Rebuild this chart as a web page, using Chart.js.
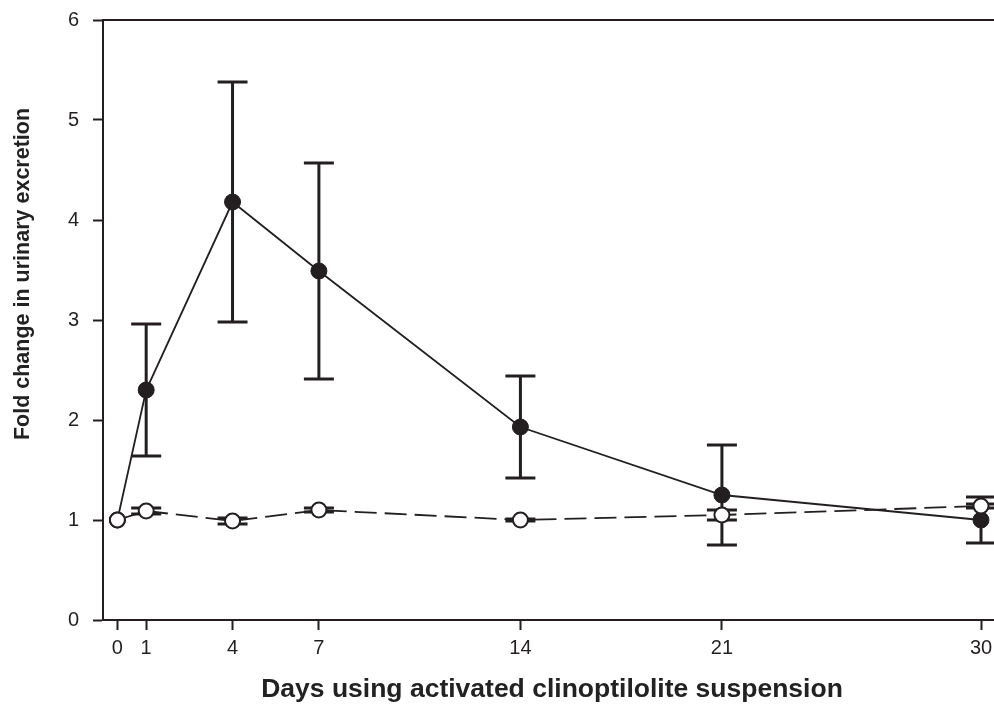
<!DOCTYPE html>
<html>
<head>
<meta charset="utf-8">
<script src="https://cdn.jsdelivr.net/npm/chart.js@4"></script>
<style>
  html, body { margin: 0; padding: 0; background: #fff; }
  #wrap { width: 994px; height: 704px; }
</style>
</head>
<body>
<div id="wrap"><canvas id="chart" width="994" height="704"></canvas></div>
<script>
// days on the x axis (also the tick labels)
const days = [0, 1, 4, 7, 14, 21, 30];
// filled circles, solid line
const treatedMean = [1.00, 2.30, 4.18, 3.49, 1.93, 1.25, 1.00];
const treatedErr  = [0.00, 0.66, 1.20, 1.08, 0.51, 0.50, 0.23];
// open circles, dashed line
const controlMean = [1.00, 1.09, 0.99, 1.10, 1.00, 1.05, 1.14];
const controlErr  = [0.00, 0.03, 0.03, 0.02, 0.01, 0.05, 0.02];
const yTicks = [0, 1, 2, 3, 4, 5, 6];

const INK = "#231f20";
const X_TITLE = "Days using activated clinoptilolite suspension";
const Y_TITLE = "Fold change in urinary excretion";
const X_MIN = -0.5;
const X30_PX = 981; // where day 30 sits in the original

function pts(mean) { return days.map((d, i) => ({ x: d, y: mean[i] })); }

// error bars, frame lines, axis titles
const extras = {
  id: "extras",
  afterLayout(chart) {
    // stretch the x range so day 30 lands where it does in the original
    const xs = chart.scales.x, a = chart.chartArea;
    xs.max = X_MIN + (a.right - a.left) * (30 - X_MIN) / (X30_PX - a.left);
    xs.configure();
  },
  beforeDatasetsDraw(chart) {
    const ctx = chart.ctx, xs = chart.scales.x, ys = chart.scales.y;
    const sets = [[treatedMean, treatedErr], [controlMean, controlErr]];
    ctx.save();
    ctx.strokeStyle = INK; ctx.lineWidth = 3; ctx.lineCap = "butt";
    sets.forEach(([m, e]) => {
      days.forEach((d, i) => {
        if (!e[i]) return;
        const px = xs.getPixelForValue(d);
        const top = ys.getPixelForValue(m[i] + e[i]);
        const bot = ys.getPixelForValue(m[i] - e[i]);
        ctx.beginPath();
        ctx.moveTo(px, top); ctx.lineTo(px, bot);
        ctx.moveTo(px - 15, top); ctx.lineTo(px + 15, top);
        ctx.moveTo(px - 15, bot); ctx.lineTo(px + 15, bot);
        ctx.stroke();
      });
    });
    ctx.restore();
  },
  afterDraw(chart) {
    const ctx = chart.ctx, a = chart.chartArea;
    ctx.save();
    ctx.strokeStyle = INK; ctx.lineWidth = 2;
    ctx.beginPath();
    ctx.moveTo(a.left, a.top); ctx.lineTo(chart.width, a.top);
    ctx.moveTo(a.right - 1, a.bottom); ctx.lineTo(chart.width, a.bottom);
    ctx.stroke();
    ctx.fillStyle = "#222";
    ctx.textAlign = "center"; ctx.textBaseline = "middle";
    ctx.font = "bold 26.5px 'Liberation Sans'";
    ctx.fillText(X_TITLE, 552, 690);
    // y title, sits a bit above the middle like the original
    ctx.translate(23, 274);
    ctx.rotate(-Math.PI / 2);
    ctx.font = "bold 21.5px 'Liberation Sans'";
    ctx.fillText(Y_TITLE, 0, 0);
    ctx.restore();
  }
};

new Chart(document.getElementById("chart"), {
  type: "scatter",
  data: {
    datasets: [
      {
        label: "Control",
        data: pts(controlMean),
        showLine: true, clip: false,
        borderColor: INK, borderWidth: 1.8, borderDash: [22, 8],
        pointRadius: 7.5, pointBorderWidth: 2,
        pointBackgroundColor: "#fff", pointBorderColor: INK,
        order: 0
      },
      {
        label: "Treated",
        data: pts(treatedMean),
        showLine: true, clip: false,
        borderColor: INK, borderWidth: 1.8,
        pointRadius: 8, pointBorderWidth: 1,
        pointBackgroundColor: INK, pointBorderColor: INK,
        order: 1
      }
    ]
  },
  options: {
    responsive: false, animation: false,
    layout: { padding: { top: 20, right: 0, left: 0, bottom: 0 } },
    plugins: { legend: { display: false }, tooltip: { enabled: false } },
    scales: {
      x: {
        type: "linear", min: X_MIN, max: 30.44,
        afterBuildTicks: s => { s.ticks = days.map(v => ({ value: v })); },
        afterFit: s => { s.height = 84; },
        grid: { drawOnChartArea: false, drawTicks: true, tickLength: 10, tickWidth: 2, color: INK },
        border: { display: true, color: INK, width: 2 },
        ticks: { color: INK, font: { family: "Liberation Sans", size: 20 }, padding: 6, maxRotation: 0 },
        title: { display: false }
      },
      y: {
        min: 0, max: 6,
        afterBuildTicks: s => { s.ticks = yTicks.map(v => ({ value: v })); },
        afterFit: s => { s.width = 103; s.paddingTop = 0; s.paddingBottom = 0; },
        grid: { drawOnChartArea: false, drawTicks: true, tickLength: 10, tickWidth: 2, color: INK },
        border: { display: true, color: INK, width: 2 },
        ticks: { color: INK, font: { family: "Liberation Sans", size: 20 }, padding: 14 },
        title: { display: false }
      }
    }
  },
  plugins: [extras]
});
</script>
</body>
</html>
